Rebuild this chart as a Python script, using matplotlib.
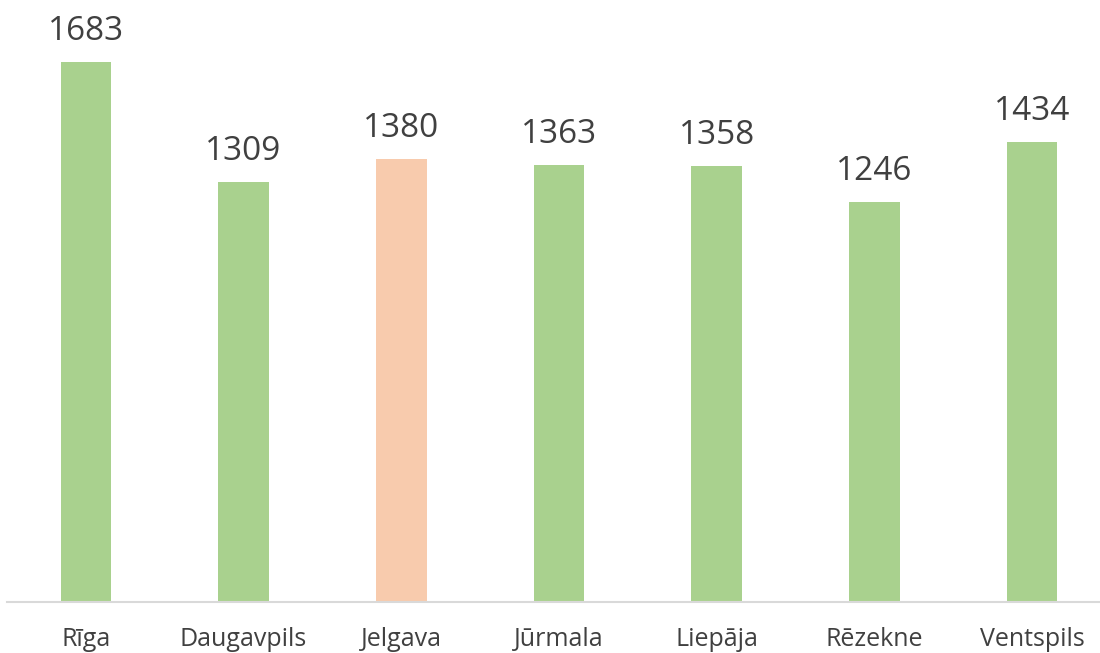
import matplotlib
matplotlib.use("Agg")
import matplotlib.pyplot as plt

categories = ["Rīga", "Daugavpils", "Jelgava", "Jūrmala", "Liepāja", "Rēzekne", "Ventspils"]
values = [1683, 1309, 1380, 1363, 1358, 1246, 1434]
colors = ["#A9D18E", "#A9D18E", "#F8CBAD", "#A9D18E", "#A9D18E", "#A9D18E", "#A9D18E"]

plt.rcParams['font.family'] = ['Open Sans', 'DejaVu Sans']

fig = plt.figure(figsize=(11, 6.53), dpi=100)
ax = fig.add_axes([7/1100, 1 - 602/653, 1104/1100, 602/653])
x = list(range(len(categories)))
ax.bar(x, values, width=0.32, color=colors, zorder=2)
ax.set_xlim(-0.5, len(categories) - 0.5)
ax.set_ylim(0, 1876)

for xi, v in zip(x, values):
    ax.annotate(str(v), (xi, v), xytext=(0, 10), textcoords="offset points",
                ha="center", va="bottom", fontsize=24, color="#404040")

for s in ["top", "right", "left"]:
    ax.spines[s].set_visible(False)
ax.spines["bottom"].set_color("#D9D9D9")
ax.spines["bottom"].set_linewidth(1.5)
ax.set_yticks([])
ax.set_xticks(x)
ax.set_xticklabels(categories, fontsize=18, color="#404040")
ax.tick_params(axis="x", length=0, pad=18)

fig.savefig("out.png", dpi=100)
